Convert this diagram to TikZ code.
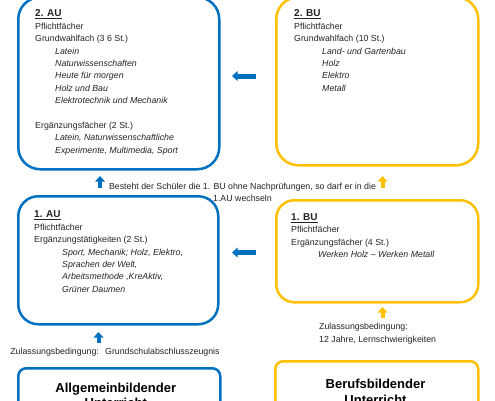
\documentclass[tikz,border=0pt]{standalone}
\usepackage{fontspec}
\setmainfont{Liberation Sans}
\usetikzlibrary{arrows.meta}
\definecolor{aublue}{RGB}{0,112,192}
\definecolor{buorange}{RGB}{255,192,0}
\definecolor{txt}{RGB}{35,35,35}
\newcommand{\hd}[1]{{\fontsize{10}{12.4}\selectfont\bfseries\underline{#1}}}
\begin{document}
\begin{tikzpicture}[x=1pt,y=-1pt,
  bigbox/.style={draw, line width=2.5pt, anchor=north west, inner sep=0pt},
  aubox/.style={bigbox, draw=aublue},
  bubox/.style={bigbox, draw=buorange},
  body/.style={anchor=north west, inner sep=0pt, align=left, text=txt,
    font=\fontsize{8.8}{12.4}\selectfont},
  note/.style={inner sep=0pt, text=txt, font=\fontsize{8.8}{12.4}\selectfont},
  bigtext/.style={anchor=north, inner sep=0pt, align=center, text=black,
    font=\fontsize{13}{15.5}\selectfont\bfseries},
  bluearrow/.style={draw=aublue, -{Triangle[width=9.5pt,length=5.5pt]}},
  orangearrow/.style={draw=buorange, -{Triangle[width=9.5pt,length=5.5pt]}}
]
\useasboundingbox (0,0) rectangle (495,400);
\clip (0,0) rectangle (495,400);

% boxes
\node[aubox, rounded corners=22pt, minimum width=201pt, minimum height=172pt] (au2) at (17,-4) {};
\node[bubox, rounded corners=22pt, minimum width=202pt, minimum height=168pt] (bu2) at (275,-4) {};
\node[aubox, rounded corners=20pt, minimum width=200pt, minimum height=128pt] (au1) at (17,195) {};
\node[bubox, rounded corners=18pt, minimum width=202pt, minimum height=102pt] (bu1) at (275,199) {};
\node[aubox, rounded corners=8pt, minimum width=202pt, minimum height=70pt] (aub) at (17,367) {};
\node[bubox, rounded corners=8pt, minimum width=203pt, minimum height=70pt] (bub) at (274,360) {};

% texts
\node[body] (au2t) at (35,9.8) {\hd{2. AU}\\
Pflichtfächer\\
Grundwahlfach (3 6 St.)\\
\hspace*{20pt}\textit{Latein}\\
\hspace*{20pt}\textit{Naturwissenschaften}\\
\hspace*{20pt}\textit{Heute für morgen}\\
\hspace*{20pt}\textit{Holz und Bau}\\
\hspace*{20pt}\textit{Elektrotechnik und Mechanik}\\[12.4pt]
Ergänzungsfächer (2 St.)\\
\hspace*{20pt}\textit{Latein, Naturwissenschaftliche}\\
\hspace*{20pt}\textit{Experimente, Multimedia, Sport}};

\node[body] (bu2t) at (294,9.8) {\hd{2. BU}\\
Pflichtfächer\\
Grundwahlfach (10 St.)\\
\hspace*{28pt}\textit{Land- und Gartenbau}\\
\hspace*{28pt}\textit{Holz}\\
\hspace*{28pt}\textit{Elektro}\\
\hspace*{28pt}\textit{Metall}};

\node[body] (au1t) at (34,210.8) {\hd{1. AU}\\
Pflichtfächer\\
Ergänzungstätigkeiten (2 St.)\\
\hspace*{28pt}\textit{Sport, Mechanik; Holz, Elektro,}\\
\hspace*{28pt}\textit{Sprachen der Welt,}\\
\hspace*{28pt}\textit{Arbeitsmethode ,KreAktiv,}\\
\hspace*{28pt}\textit{Grüner Daumen}};

\node[body] (bu1t) at (291,213.3) {\hd{1. BU}\\
Pflichtfächer\\
Ergänzungsfächer (4 St.)\\
\hspace*{27pt}\textit{Werken Holz – Werken Metall}};

\node[note, anchor=north, align=center] (wechsel) at (242.5,182.7)
  {Besteht der Schüler die 1. BU ohne Nachprüfungen, so darf er in die\\1.AU wechseln};

\node[note, anchor=base] (zulau) at (115,354)
  {Zulassungsbedingung:\hspace{3pt} Grundschulabschlusszeugnis};

\node[note, anchor=north west, align=left] (zulbu) at (319,323.2)
  {Zulassungsbedingung:\\12 Jahre, Lernschwierigkeiten};

\node[bigtext] (aubt) at (115.8,382.4) {Allgemeinbildender\\Unterricht};
\node[bigtext] (bubt) at (375.5,379) {Berufsbildender\\Unterricht};

% arrow end points
\coordinate (a1s) at (256,76);   \coordinate (a1e) at (232,76);
\coordinate (a2s) at (256,252.5); \coordinate (a2e) at (232,252.5);
\coordinate (a3s) at (100,188);  \coordinate (a3e) at (100,176);
\coordinate (a4s) at (382.5,188); \coordinate (a4e) at (382.5,176);
\coordinate (a5s) at (98.5,343); \coordinate (a5e) at (98.5,332);
\coordinate (a6s) at (382.5,318); \coordinate (a6e) at (382.5,307);

\draw[bluearrow, line width=5pt] (a1s) -- (a1e);
\draw[bluearrow, line width=5pt] (a2s) -- (a2e);
\draw[bluearrow, line width=4pt] (a3s) -- (a3e);
\draw[orangearrow, line width=4pt] (a4s) -- (a4e);
\draw[bluearrow, line width=4pt] (a5s) -- (a5e);
\draw[orangearrow, line width=4pt] (a6s) -- (a6e);
\end{tikzpicture}
\end{document}
